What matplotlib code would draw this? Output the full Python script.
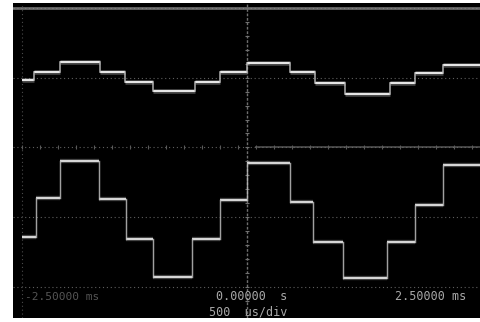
import numpy as np
import matplotlib
matplotlib.use("Agg")
import matplotlib.pyplot as plt

# screen: 500 us/div, time in ms; vertical in divisions
t_start = -2.5
t_end = 2.6

# channel 1 (upper, small stepped wave)
ch1_edges = [-2.367, -2.078, -1.633, -1.356, -1.044, -0.578, -0.300,
             0.0, 0.478, 0.756, 1.089, 1.589, 1.867, 2.178]
ch1_levels = [1.93, 2.16, 2.45, 2.16, 1.88, 1.62, 1.88, 2.16,
              2.42, 2.16, 1.85, 1.53, 1.85, 2.13, 2.37]

# channel 2 (lower, large stepped wave)
ch2_edges = [-2.344, -2.078, -1.644, -1.344, -1.044, -0.611, -0.300,
             0.0, 0.478, 0.733, 1.067, 1.556, 1.867, 2.178]
ch2_levels = [-2.56, -1.45, -0.39, -1.48, -2.62, -3.71, -2.62, -1.50,
              -0.44, -1.56, -2.71, -3.74, -2.71, -1.65, -0.50]

grid_rows = [4, 2, 0, -2, -4]
labels_left = "-2.50000 ms"
label_center = "0.00000  s"
label_div = "500  us/div"
label_right = "2.50000 ms"


def draw_trace(ax, edges, levels, lw):
    xs = [t_start] + edges + [t_end]
    for i, lev in enumerate(levels):
        ax.plot([xs[i], xs[i + 1]], [lev, lev], color="#9a9a9a", lw=lw + 1.8,
                alpha=0.45, solid_capstyle="butt")
        ax.plot([xs[i], xs[i + 1]], [lev, lev], color="#e6e6e6", lw=lw,
                solid_capstyle="butt")
    for i, e in enumerate(edges):
        ax.plot([e, e], [levels[i], levels[i + 1]], color="#bdbdbd", lw=lw * 0.8,
                alpha=0.85)


fig = plt.figure(figsize=(4.81, 3.22), dpi=100, facecolor="white")
ax = fig.add_axes([13 / 481, 4 / 322, 1 - 13 / 481, 315 / 322])
ax.set_facecolor("black")
ax.set_xlim(-2.6, 2.6)
ax.set_ylim(-4.89, 4.14)
ax.set_xticks([])
ax.set_yticks([])
for s in ax.spines.values():
    s.set_visible(False)

# graticule
for r in grid_rows:
    ax.axhline(r, color="#5e5e5e", lw=0.8, ls=(0, (1, 2.5)))
ax.axhline(4, color="#8c8c8c", lw=2.0, alpha=0.75)
ax.plot([0.1, 2.6], [0, 0], color="#707070", lw=1.4, alpha=0.6)
ax.axvline(-2.5, color="#4a4a4a", lw=0.8, ls=(0, (1, 2.5)))
ax.axvline(0, color="#6e6e6e", lw=1.0, ls=(0, (2, 1.2)))
yt = np.arange(-4.8, 4.1, 0.4)
ax.plot(np.zeros_like(yt), yt, ls="none", marker="_", ms=3, color="#707070", mew=0.8)
xt = np.arange(-2.5, 2.6, 0.2)
ax.plot(xt, np.zeros_like(xt), ls="none", marker="|", ms=2.5, color="#5a5a5a", mew=0.8)

draw_trace(ax, ch1_edges, ch1_levels, 1.5)
draw_trace(ax, ch2_edges, ch2_levels, 1.3)

mono = "DejaVu Sans Mono"
ax.text(-2.47, -4.28, labels_left, color="#555555", fontsize=8, family=mono,
        va="center", ha="left")
ax.text(0.05, -4.28, label_center, color="#a8a8a8", fontsize=8.5, family=mono,
        va="center", ha="center")
ax.text(0.01, -4.71, label_div, color="#a8a8a8", fontsize=8.5, family=mono,
        va="center", ha="center")
ax.text(1.64, -4.28, label_right, color="#a8a8a8", fontsize=8.5, family=mono,
        va="center", ha="left")

fig.savefig("out.png", dpi=100, facecolor="white")
